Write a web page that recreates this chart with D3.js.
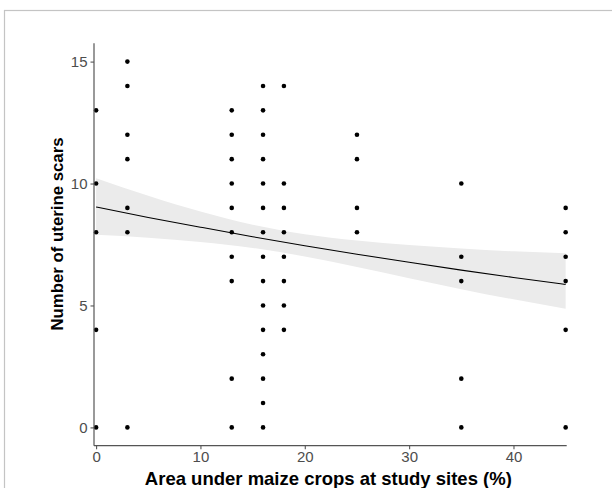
<!DOCTYPE html>
<html>
<head>
<meta charset="utf-8">
<script src="https://cdn.jsdelivr.net/npm/d3@7"></script>
<style>
  html, body { margin: 0; padding: 0; background: #fff; }
  svg { display: block; }
</style>
</head>
<body>
<svg id="chart" width="612" height="488"></svg>
<script>
// ---- data ----
const maizeArea = [0, 3, 13, 16, 18, 25, 35, 45];
const scarsAt0  = [13, 10, 8, 4, 0];
const scarsAt3  = [15, 14, 12, 11, 9, 8, 0];
const scarsAt13 = [13, 12, 11, 10, 9, 8, 7, 6, 2, 0];
const scarsAt16 = [14, 13, 12, 11, 10, 9, 8, 7, 6, 5, 4, 3, 2, 1, 0];
const scarsAt18 = [14, 10, 9, 8, 7, 6, 5, 4];
const scarsAt25 = [12, 11, 9, 8];
const scarsAt35 = [10, 7, 6, 2, 0];
const scarsAt45 = [9, 8, 7, 6, 4, 0];
const scarsByArea = [scarsAt0, scarsAt3, scarsAt13, scarsAt16, scarsAt18, scarsAt25, scarsAt35, scarsAt45];

// fitted trend and confidence band
const fitX     = [0, 5, 10, 15, 20, 25, 30, 35, 40, 45];
const fitY     = [9.04, 8.61, 8.21, 7.82, 7.45, 7.10, 6.77, 6.45, 6.15, 5.86];
const fitUpper = [10.22, 9.50, 8.85, 8.31, 7.92, 7.66, 7.48, 7.34, 7.22, 7.14];
const fitLower = [7.90, 7.78, 7.60, 7.36, 7.01, 6.58, 6.12, 5.67, 5.25, 4.87];

const xTicks = [0, 10, 20, 30, 40];
const yTicks = [0, 5, 10, 15];
const xTitle = "Area under maize crops at study sites (%)";
const yTitle = "Number of uterine scars";

// ---- layout ----
const svg = d3.select("#chart");
const pLeft = 94, pRight = 566.7, pTop = 43.3, pBottom = 445.7;

const x = d3.scaleLinear().domain([-0.2, 45.1]).range([pLeft, pRight]);
const y = d3.scaleLinear().domain([-0.75, 15.75]).range([pBottom, pTop]);

// outer frame
svg.append("rect")
  .attr("x", 4.5).attr("y", 10.5)
  .attr("width", 640).attr("height", 520)
  .attr("fill", "none").attr("stroke", "#c4c4c4").attr("stroke-width", 1.2);

const fitData = fitX.map((v, i) => ({ x: v, y: fitY[i], lo: fitLower[i], hi: fitUpper[i] }));

// band
svg.append("path")
  .datum(fitData)
  .attr("fill", "#ebebeb")
  .attr("d", d3.area().x(d => x(d.x)).y0(d => y(d.lo)).y1(d => y(d.hi)).curve(d3.curveMonotoneX));

// trend line
svg.append("path")
  .datum(fitData)
  .attr("fill", "none").attr("stroke", "#000").attr("stroke-width", 1.1)
  .attr("d", d3.line().x(d => x(d.x)).y(d => y(d.y)).curve(d3.curveMonotoneX));

// points
const points = [];
maizeArea.forEach((a, i) => scarsByArea[i].forEach(s => points.push({ a, s })));
svg.append("g").selectAll("circle").data(points).join("circle")
  .attr("cx", d => x(d.a)).attr("cy", d => y(d.s)).attr("r", 2.3).attr("fill", "#000");

// axes
const axisColor = "#555";
const labelColor = "#4d4d4d";
const font = "'Liberation Sans', Arial, sans-serif";

const gx = svg.append("g").attr("transform", `translate(0,${pBottom})`)
  .call(d3.axisBottom(x).tickValues(xTicks).tickSize(3.5).tickPadding(2.5).tickSizeOuter(0));
const gy = svg.append("g").attr("transform", `translate(${pLeft},0)`)
  .call(d3.axisLeft(y).tickValues(yTicks).tickSize(3.5).tickPadding(3).tickSizeOuter(0));

[gx, gy].forEach(g => {
  g.select(".domain").attr("stroke", axisColor).attr("stroke-width", 1.2);
  g.selectAll(".tick line").attr("stroke", axisColor).attr("stroke-width", 1.1);
  g.selectAll(".tick text").attr("fill", labelColor)
    .attr("font-family", font).attr("font-size", 15);
});
gx.select(".domain").attr("d", `M${pLeft},0H${pRight}`);
gy.select(".domain").attr("d", `M0,${pTop}V${pBottom}`);

// titles
svg.append("text")
  .attr("x", (pLeft + pRight) / 2 - 2).attr("y", 485)
  .attr("text-anchor", "middle")
  .attr("font-family", font).attr("font-weight", "bold").attr("font-size", 18.5)
  .attr("fill", "#000").text(xTitle);

svg.append("text")
  .attr("transform", `translate(63,234) rotate(-90)`)
  .attr("text-anchor", "middle")
  .attr("font-family", font).attr("font-weight", "bold").attr("font-size", 16.8)
  .attr("fill", "#000").text(yTitle);
</script>
</body>
</html>
